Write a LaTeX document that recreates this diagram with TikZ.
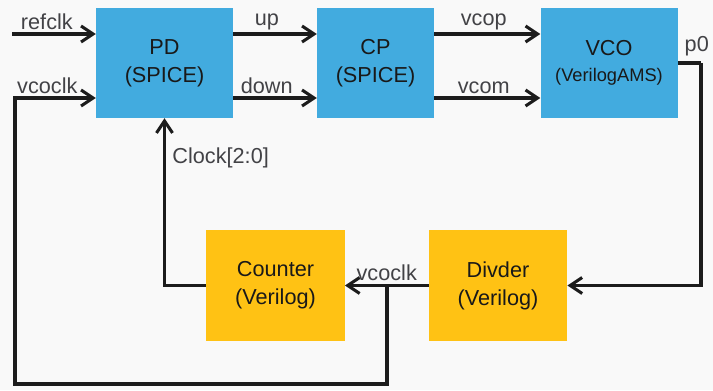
\documentclass[tikz,border=0pt]{standalone}
\usepackage{fontspec}
\setmainfont{Liberation Sans}
\usetikzlibrary{arrows.meta,positioning,calc}
\definecolor{boxblue}{RGB}{66,171,223}
\definecolor{boxyellow}{RGB}{255,194,20}
\definecolor{wiredark}{RGB}{28,28,28}
\definecolor{labelgray}{RGB}{66,66,70}
\definecolor{pagegray}{RGB}{249,249,249}
\tikzset{
  bnode/.style={fill=boxblue,minimum width=4.11cm,minimum height=3.3cm,align=center,inner sep=2pt,
    text=black!90,font=\fontsize{18.5}{24}\selectfont},
  bnodey/.style={bnode,fill=boxyellow,minimum width=4.15cm,minimum height=3.33cm},
  mainflow/.style={-{Straight Barb[length=3.6mm,width=4.8mm]},line width=2.6pt,draw=wiredark},
  plainwire/.style={line width=2.6pt,draw=wiredark},
  labelnote/.style={font=\fontsize{18.5}{22}\selectfont,text=labelgray,inner sep=1.5pt}
}

\begin{document}
\begin{tikzpicture}[x=0.03cm,y=-0.03cm]
  \fill[pagegray] (0,0) rectangle (713,390);
  \useasboundingbox (0,0) rectangle (713,390);

  \node[bnode] (pd) at (164.5,63) {PD\\(SPICE)};
  \node[bnode,minimum width=3.51cm] (cp) at (375.5,63) {CP\\(SPICE)};
  \node[bnode] (vco) at (609,63) {VCO\\[-2pt]{\fontsize{15.6}{18}\selectfont(VerilogAMS)}};
  \node[bnodey] (ct) at (275.5,285.5) {Counter\\(Verilog)};
  \node[bnodey] (dv) at (498,285.5) {Divder\\(Verilog)};

  \coordinate (rowa) at (0,34);
  \coordinate (rowb) at (0,98);
  \coordinate (refin) at (12,34);
  \coordinate (loopl) at (15,384);
  \coordinate (p0c) at (701,63);
  \coordinate (br) at (387,285.5);

  % top row
  \draw[mainflow] (refin) -- node[labelnote,above=1pt,xshift=-6pt]{refclk} (pd.west |- refin);
  \draw[mainflow] (pd.east |- rowa) -- node[labelnote,above=1pt,xshift=-7pt]{up} (cp.west |- rowa);
  \draw[mainflow] (pd.east |- rowb) -- node[labelnote,above=1pt,xshift=-7pt]{down} (cp.west |- rowb);
  \draw[mainflow] (cp.east |- rowa) -- node[labelnote,above=1pt,xshift=-3pt]{vcop} (vco.west |- rowa);
  \draw[mainflow] (cp.east |- rowb) -- node[labelnote,above=1pt,xshift=-3pt]{vcom} (vco.west |- rowb);

  % feedback
  \draw[plainwire] (vco.east) -- (p0c);
  \node[labelnote,above=4pt of p0c,xshift=-3.6pt] (p0) {p0};
  \draw[mainflow] (p0c) |- (dv.east);
  \draw[mainflow] (dv.west) -- node[labelnote,above=1pt]{vcoclk} (ct.east);
  \draw[mainflow] (br) |- (loopl) |- node[labelnote,pos=0.70,above=1pt]{vcoclk} (pd.west |- rowb);
  \draw[mainflow] (ct.west) -| node[labelnote,pos=0.88,right=4pt]{Clock[2:0]} (pd.south);
\end{tikzpicture}
\end{document}
